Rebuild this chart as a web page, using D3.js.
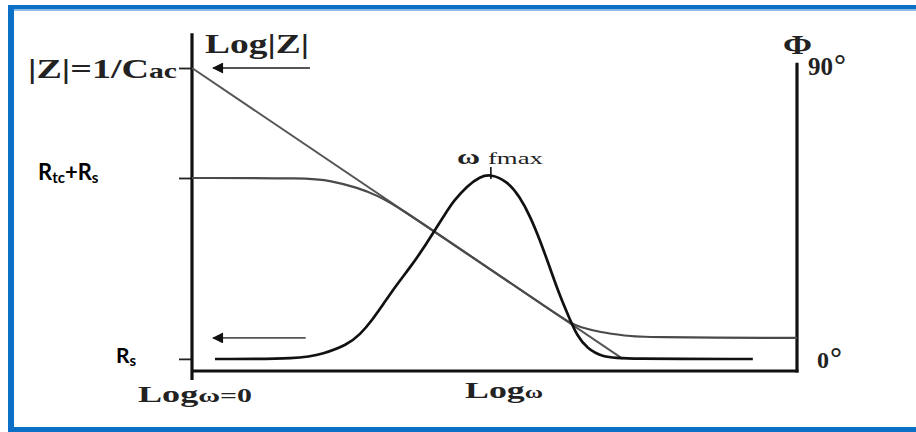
<!DOCTYPE html>
<html>
<head>
<meta charset="utf-8">
<script src="https://cdn.jsdelivr.net/npm/d3@7"></script>
<style>
body { margin: 0; background: #fff; }
svg { display: block; }
</style>
</head>
<body>
<svg id="chart" width="916" height="432"></svg>
<script>
// phase curve (bell), x in log(omega) units, phase in degrees
const bellX = [0.38, 1.79, 2.17, 2.56, 2.78, 2.98, 3.16, 3.39, 3.60, 3.82, 4.02, 4.23, 4.31, 4.55, 4.76, 4.94, 5.21, 5.42, 5.59, 5.75, 5.92, 6.08, 6.25, 6.36, 6.53, 6.79, 7.12, 9.27];
const bellPhase = [0, 0, 1.6, 4.3, 7.5, 12.0, 16.8, 23.0, 28.0, 33.8, 39.8, 45.8, 48.2, 53.2, 56.0, 56.8, 54.6, 49.8, 43.8, 36.6, 27.8, 19.4, 12.0, 7.4, 3.2, 0.6, 0, 0];

// log|Z| curve
const zX = [0, 1.95, 2.28, 2.73, 3.06, 3.44, 4.26, 5.09, 5.92, 6.25, 6.41, 6.74, 7.19, 7.40, 10];
const zLog = [6.37, 6.37, 6.28, 6.06, 5.80, 5.37, 4.26, 3.14, 2.02, 1.58, 1.45, 1.28, 1.16, 1.11, 1.09];

// capacitive asymptote
const asymX = [0, 7.12];
const asymLog = [10, 0.40];

// left axis ticks (log|Z|)
const leftTicks = [10, 6.37, 0.40];
const peakX = 4.94;
const peakPhase = 56.2;

let svg = d3.select("#chart");

let x = d3.scaleLinear().domain([0, 10]).range([192, 797]);
let y = d3.scaleLinear().domain([0, 10]).range([371, 68]);
let phase = d3.scaleLinear().domain([0, 90]).range([359, 66]);

// blue frame
let blue = "#0b6fc6";
svg.append("rect").attr("x", 8).attr("y", 5).attr("width", 908).attr("height", 4).attr("fill", blue);
svg.append("rect").attr("x", 8).attr("y", 9).attr("width", 908).attr("height", 2).attr("fill", "#8dbce8");
svg.append("rect").attr("x", 8).attr("y", 5).attr("width", 6).attr("height", 427).attr("fill", blue);
svg.append("rect").attr("x", 8).attr("y", 427).attr("width", 908).attr("height", 5).attr("fill", blue);

// arrow head
svg.append("defs").append("marker")
    .attr("id", "head")
    .attr("viewBox", "0 0 10 10")
    .attr("refX", 9).attr("refY", 5)
    .attr("markerWidth", 17).attr("markerHeight", 11)
    .attr("markerUnits", "userSpaceOnUse")
    .attr("orient", "auto")
    .append("path")
    .attr("d", "M0,0L10,5L0,10Z")
    .attr("fill", "#111");

// left ticks
let axisG = svg.append("g").attr("transform", "translate(" + x(0) + ",0)")
    .call(d3.axisLeft(y).tickValues(leftTicks).tickSize(13).tickSizeOuter(0).tickFormat(""));
axisG.select(".domain").remove();
axisG.selectAll(".tick line").attr("stroke", "#222").attr("stroke-width", 1.8);

// frame axes
svg.append("line").attr("x1", x(0)).attr("x2", x(0)).attr("y1", y(11.15)).attr("y2", y(-0.3))
    .attr("stroke", "#111").attr("stroke-width", 3.2);
svg.append("line").attr("x1", x(0)).attr("x2", x(10) + 1.5).attr("y1", y(0)).attr("y2", y(0))
    .attr("stroke", "#111").attr("stroke-width", 2.8);
svg.append("line").attr("x1", x(10)).attr("x2", x(10)).attr("y1", y(0) + 1.4).attr("y2", phase(91))
    .attr("stroke", "#111").attr("stroke-width", 3.2);

// asymptote
svg.append("path")
    .datum(d3.zip(asymX, asymLog))
    .attr("d", d3.line().x(d => x(d[0])).y(d => y(d[1])))
    .attr("fill", "none").attr("stroke", "#555").attr("stroke-width", 2);

// |Z| curve
svg.append("path")
    .datum(d3.zip(zX, zLog))
    .attr("d", d3.line().x(d => x(d[0])).y(d => y(d[1])).curve(d3.curveBasis))
    .attr("fill", "none").attr("stroke", "#4a4a4a").attr("stroke-width", 2.2);

// phase curve
svg.append("path")
    .datum(d3.zip(bellX, bellPhase))
    .attr("d", d3.line().x(d => x(d[0])).y(d => phase(d[1])).curve(d3.curveBasis))
    .attr("fill", "none").attr("stroke", "#111").attr("stroke-width", 2.7);

// peak tick
svg.append("line")
    .attr("x1", x(peakX)).attr("x2", x(peakX))
    .attr("y1", phase(peakPhase) + 3).attr("y2", phase(peakPhase) - 9)
    .attr("stroke", "#111").attr("stroke-width", 1.6);

// arrows
svg.append("line")
    .attr("x1", x(1.95)).attr("x2", x(0.35))
    .attr("y1", y(10)).attr("y2", y(10))
    .attr("stroke", "#555").attr("stroke-width", 2)
    .attr("marker-end", "url(#head)");
svg.append("line")
    .attr("x1", x(1.88)).attr("x2", x(0.35))
    .attr("y1", y(1.09)).attr("y2", y(1.09))
    .attr("stroke", "#555").attr("stroke-width", 1.8)
    .attr("marker-end", "url(#head)");

// labels
let serif = "'Liberation Serif', 'Times New Roman', serif";
let sans = "Lato, 'Open Sans', sans-serif";

svg.append("text")
    .attr("x", 205).attr("y", 53)
    .attr("font-family", serif).attr("font-weight", "bold")
    .attr("font-size", "27px").attr("fill", "#222")
    .attr("textLength", 104).attr("lengthAdjust", "spacingAndGlyphs")
    .text("Log|Z|");

let zt = svg.append("text")
    .attr("x", 28).attr("y", 78)
    .attr("font-family", serif).attr("font-weight", "bold")
    .attr("font-size", "27px").attr("fill", "#222")
    .attr("textLength", 149).attr("lengthAdjust", "spacingAndGlyphs");
zt.append("tspan").text("|Z|=1/C");
zt.append("tspan").attr("font-size", "21px").text("ac");

let lw = svg.append("text")
    .attr("x", 138).attr("y", 402)
    .attr("font-family", serif).attr("font-weight", "bold")
    .attr("font-size", "23px").attr("fill", "#222")
    .attr("textLength", 114).attr("lengthAdjust", "spacingAndGlyphs");
lw.append("tspan").text("Log");
lw.append("tspan").attr("font-size", "19px").text("ω=0");

let lw2 = svg.append("text")
    .attr("x", 465).attr("y", 398)
    .attr("font-family", serif).attr("font-weight", "bold")
    .attr("font-size", "23px").attr("fill", "#222")
    .attr("textLength", 78).attr("lengthAdjust", "spacingAndGlyphs");
lw2.append("tspan").text("Log");
lw2.append("tspan").attr("font-size", "16px").text("ω");

svg.append("text")
    .attr("x", 783).attr("y", 54)
    .attr("font-family", serif).attr("font-weight", "bold")
    .attr("font-size", "28px").attr("fill", "#222")
    .attr("textLength", 29).attr("lengthAdjust", "spacingAndGlyphs")
    .text("Φ");

let t90 = svg.append("text")
    .attr("x", 808).attr("y", 75)
    .attr("font-family", serif).attr("font-weight", "bold")
    .attr("font-size", "25px").attr("fill", "#222");
t90.append("tspan").text("90");
t90.append("tspan").attr("font-size", "30px").attr("dx", 1).text("°");

let t0 = svg.append("text")
    .attr("x", 817).attr("y", 368)
    .attr("font-family", serif).attr("font-weight", "bold")
    .attr("font-size", "24px").attr("fill", "#222");
t0.append("tspan").text("0");
t0.append("tspan").attr("font-size", "30px").attr("dx", 1).text("°");

let wm = svg.append("text")
    .attr("x", 457).attr("y", 164)
    .attr("font-family", serif).attr("font-weight", "bold")
    .attr("font-size", "20px").attr("fill", "#222")
    .attr("textLength", 86).attr("lengthAdjust", "spacingAndGlyphs");
wm.append("tspan").text("ω ");
wm.append("tspan").attr("font-size", "17px").attr("font-weight", "normal").text("fmax");

// sans labels on white box
svg.append("rect").attr("x", 36).attr("y", 158).attr("width", 130).attr("height", 30).attr("fill", "#fff");
let rt = svg.append("text")
    .attr("x", 38).attr("y", 180)
    .attr("font-family", sans).attr("font-weight", "bold")
    .attr("font-size", "22px").attr("fill", "#000");
rt.append("tspan").text("R");
rt.append("tspan").attr("font-size", "15px").attr("dy", 3).text("tc");
rt.append("tspan").attr("dy", -3).text("+R");
rt.append("tspan").attr("font-size", "15px").attr("dy", 3).text("s");

let rs = svg.append("text")
    .attr("x", 116).attr("y", 363)
    .attr("font-family", sans).attr("font-weight", "bold")
    .attr("font-size", "21px").attr("fill", "#000");
rs.append("tspan").text("R");
rs.append("tspan").attr("font-size", "15px").attr("dy", 3).text("s");
</script>
</body>
</html>
